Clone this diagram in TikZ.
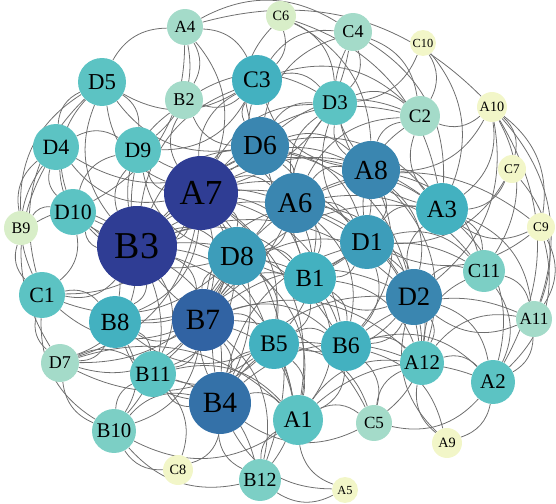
\documentclass[tikz,border=0pt]{standalone}
\usepackage{fontspec}
\setmainfont{Liberation Serif}
\usepackage{xcolor}
\usepackage{tikz}
\usetikzlibrary{backgrounds}
\definecolor{lvA}{HTML}{2F3D94}
\definecolor{lvB}{HTML}{3163A3}
\definecolor{lvBb}{HTML}{3471A8}
\definecolor{lvC}{HTML}{3A86B0}
\definecolor{lvD}{HTML}{3D9DBA}
\definecolor{lvE}{HTML}{43B1C0}
\definecolor{lvF}{HTML}{5CC3C3}
\definecolor{lvG}{HTML}{7CCFC5}
\definecolor{lvH}{HTML}{A4DBC9}
\definecolor{lvI}{HTML}{D8EEC8}
\definecolor{lvJ}{HTML}{F2F6C8}
\definecolor{edgegray}{HTML}{6E6E6E}

\begin{document}
\begin{tikzpicture}[x=0.02cm, y=-0.02cm,
	vtx/.style={circle, draw=none, inner sep=0pt},
	edge/.style={edgegray, line width=0.45pt}]
	\useasboundingbox (0,0) rectangle (556,504);
	\foreach \n/\x/\y/\r/\c in {
		A7/201/193/37/lvA, B3/137/246/40/lvA, B7/203/320/31/lvB, B4/220/403/31/lvBb,
		D6/260/146/29/lvC, A6/295/203/30/lvC, A8/371/170/29/lvC, D2/414/297/28/lvC,
		D8/237/256/29/lvD, D1/367/242/27/lvD,
		B1/310/278/26/lvE, B5/274/344/25/lvE, B6/346/346/25/lvE, A3/442/209/26/lvE,
		C3/257/80/25/lvE, B8/115/322/26/lvE,
		D5/102/82/24/lvF, D4/56/147/23/lvF, D9/138/150/23/lvF, D10/73/212/23/lvF,
		C1/42/295/23/lvF, B11/153/374/23/lvF, D3/335/103/22/lvF, A12/422/363/22/lvF,
		A2/493/382/22/lvF, A1/298/420/25/lvF,
		B10/114/431/22/lvG, C11/484/271/21/lvG, B12/260/480/21/lvG,
		C2/420/116/20/lvH, C4/353/32/19/lvH, A4/185/27/18/lvH, B2/184/100/19/lvH,
		D7/60/363/19/lvH, C5/374/423/18/lvH, A11/534/319/18/lvH,
		C6/281/16/15/lvI, B9/21/228/17/lvI,
		C10/423/43/13/lvJ, A10/492/107/15/lvJ, C7/512/169/14/lvJ, C9/541/227/14/lvJ,
		A9/447/443/15/lvJ, C8/178/470/15/lvJ, A5/345/490/13/lvJ} {
		\pgfmathsetmacro\fs{0.54*\r}
		\node[vtx, fill=\c, minimum size=\r*0.04cm, font=\fontsize{\fs}{\fs}\selectfont] (\n) at (\x,\y) {\n};
	}
	\begin{scope}[on background layer]
	\foreach \a/\b in {
		A7/B3, A7/D6, A7/A6, A7/D8, A7/B7, A7/B4, A7/D9, A7/D5, A7/D4, A4/A7, A7/B2, A7/C3, A7/D10,
		A7/C1, A7/B8, A7/B1, A7/D1, A7/A8, A7/D3, A7/B5, A7/B6, A7/D2, A7/A3, A7/B11, A7/C2, A7/A1,
		A7/B12, C4/A7, A7/D7,
		B3/D9, B3/D5, B3/D4, B3/D10, B9/B3, B3/C1, B3/B8, B3/B7, B3/B4, B3/D8, B3/D6, B3/A6, B3/B2,
		B3/B11, B3/D7, B3/B10, B3/B1, B3/B5, B3/A1, B3/A8, B3/D1, B3/C3, B3/D2, B3/B6,
		B7/B8, B7/B11, B7/B4, B7/D8, B7/B5, B7/B1, B7/A6, B7/D1, B7/D2, B7/B6, B7/A1, B7/B12,
		B7/B10, B7/C1, B7/D7, B7/D9, B7/A12, B7/C5, B7/A3,
		B4/B11, B10/B4, B4/C8, B12/B4, B4/A1, A5/B4, B4/B5, B4/B6, B4/B8, B4/D8, B4/A6, B4/D2,
		B4/A12, C5/B4, B4/D1,
		D6/C3, D6/D3, D6/A6, D6/A8, D6/D9, D6/D4, D6/D5, D6/B2, D6/C4, D6/C6, D6/D8, D6/D1, D6/B1,
		D6/A3, D6/C2, D6/D2,
		A6/A8, A6/D1, A6/D8, A6/B1, A6/D3, A6/C3, A6/A3, A6/D2, A6/B5, A6/B6, A6/C2, A6/C9, A6/A12,
		A6/C11, A6/B8,
		A8/D3, A8/C2, A8/A3, A8/D1, A10/A8, A8/C4, C6/A8, A8/D2, A8/B1, A8/C3, A8/C11, A8/A12, A8/B6,
		D1/A3, D1/D2, D1/B1, C7/D1, C9/D1, D1/C11, D1/B6, D1/A12, D1/D8, D1/C2, D1/D3,
		D2/C11, A11/D2, D2/A12, D2/A2, A9/D2, D2/B6, D2/A3, D2/B1, D2/C5, A10/D2, D2/B5,
		D8/B1, D8/B5, D8/D9, D8/B8, D8/C1, D8/D7, D8/D10, D8/B11, D8/B6, D8/A1,
		B1/B5, B1/B6, B1/A12, B1/C11, B1/A1, B1/D3,
		B5/B6, B5/A1, B5/B11, B5/B12, B5/C5, B5/D7, B5/B8,
		B6/A12, B6/A1, B6/C5, B6/A2, B6/A9, B6/A11,
		A3/C2, C7/A3, C9/A3, A3/C11, A10/A3, A3/A11, C4/A3, C6/A3, A3/A2, C10/A3, A3/D3,
		C6/C3, C3/C4, C3/D3, A4/C3, C3/B2, C3/D9, C3/D5, C3/C2,
		C6/D3, C4/D3, C10/D3, D3/C2, B2/D3,
		C10/C2, C4/C2, A10/C2,
		D5/A4, A4/B2, A4/D9, A4/C4, A4/A10, A4/D10,
		D4/D5, D5/D9, D10/D5, C1/D5, B9/D5,
		D4/D9, D10/D4, C1/D4, B9/D4, D7/D4,
		D10/C1, B9/D10, D10/B8, D10/D9,
		C1/B8, D7/C1, C1/B9, B10/C1,
		B8/D7, B8/B11, B8/B10,
		B10/D7, D7/B11, D7/A1,
		B10/B11, C8/B10, B12/B10, A1/B10,
		B11/C8, B11/B12, B11/A1,
		B12/A1, A5/B12,
		A1/C5, A5/A1, A1/A12, A1/A2,
		C5/A12, A2/C5,
		A12/A2, A9/A12, A12/A11, A12/C11,
		A2/A9, A11/A2, C11/A2,
		C11/A11, A10/C11,
		A10/C9, A10/A11, A10/C7, A10/A2,
		C7/A11,
		C9/A11, C9/A2} {
		\draw[edge] (\a) to[bend left=30] (\b);
	}
	\end{scope}
\end{tikzpicture}
\end{document}
